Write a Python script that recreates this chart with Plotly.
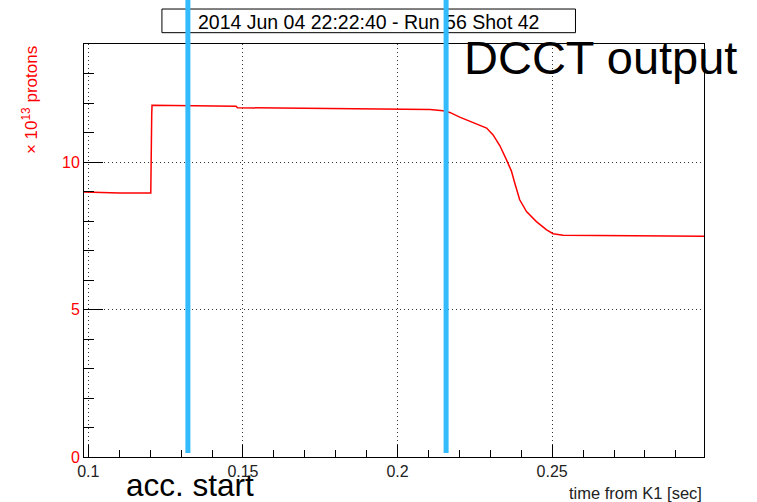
import plotly.graph_objects as go

# DCCT beam-intensity trace (units of 1e13 protons) vs time from K1 [sec]
time_s = [0.0986, 0.105, 0.110, 0.1202, 0.1203, 0.1205, 0.1206, 0.130, 0.140,
          0.1478, 0.1482, 0.160, 0.1865, 0.1870, 0.200, 0.2072, 0.2105, 0.2147,
          0.2169, 0.2201, 0.2234, 0.2266, 0.2288, 0.2309, 0.2331, 0.2352,
          0.2368, 0.2379, 0.2395, 0.2417, 0.2449, 0.2482, 0.2503, 0.2535,
          0.2718, 0.2991]
protons_e13 = [8.98, 8.96, 8.95, 8.95, 11.5, 11.6, 11.92, 11.91, 11.90,
               11.89, 11.84, 11.83, 11.82, 11.80, 11.80, 11.79, 11.78, 11.74,
               11.68, 11.52, 11.38, 11.25, 11.15, 10.92, 10.55, 10.08,
               9.70, 9.29, 8.72, 8.32, 7.98, 7.70, 7.57, 7.52,
               7.50, 7.48]

# markers for timing events
event_times = [0.1322, 0.2157]

x_ticks = [0.1, 0.15, 0.2, 0.25]
y_ticks = [0, 5, 10]

title_text = "2014 Jun 04 22:22:40 - Run 56 Shot 42"
FONT = "Liberation Sans, Arial, Helvetica, sans-serif"
RED = "#ff0000"
BLUE = "#33bbff"
GRID_DASH = "1px,3px"

fig = go.Figure()
fig.add_trace(go.Scatter(x=time_s, y=protons_e13, mode="lines",
                         line=dict(color=RED, width=1.5), showlegend=False))

shapes = [
    dict(type="rect", xref="paper", yref="paper",
         x0=0.1257, x1=0.7927, y0=1.0274, y1=1.0847,
         line=dict(color="black", width=1), fillcolor="white", layer="above",
         label=dict(text=title_text, textposition="middle center",
                    font=dict(family=FONT, size=19.5, color="black"))),
]
for t in event_times:
    shapes.append(dict(type="line", xref="x", yref="paper",
                       x0=t, x1=t, y0=0.0097, y1=1.12,
                       line=dict(color=BLUE, width=5), layer="above"))

fig.update_layout(
    width=757, height=502,
    margin=dict(l=84, r=53, t=44, b=45),
    paper_bgcolor="white", plot_bgcolor="white",
    font=dict(family=FONT, size=16, color="#222222"),
    shapes=shapes,
    xaxis=dict(range=[0.0986, 0.2991], tickvals=x_ticks,
               ticks="inside", ticklen=12, tickcolor="black", tickwidth=1,
               minor=dict(dtick=0.01, tick0=0.1, ticks="inside", ticklen=7,
                          tickcolor="black", showgrid=False),
               showline=True, linecolor="black", linewidth=1, mirror=True,
               showgrid=True, gridcolor="#333333", griddash=GRID_DASH,
               gridwidth=1, zeroline=False,
               tickfont=dict(size=16, color="#222222")),
    yaxis=dict(range=[0, 14], tickvals=y_ticks,
               ticks="inside", ticklen=19, tickcolor="black", tickwidth=1,
               minor=dict(dtick=1, tick0=0, ticks="inside", ticklen=10,
                          tickcolor="black", showgrid=False),
               showline=True, linecolor="black", linewidth=1, mirror=True,
               showgrid=True, gridcolor="#333333", griddash=GRID_DASH,
               gridwidth=1, zeroline=False,
               tickfont=dict(size=16, color=RED)),
    annotations=[
        dict(text="× 10<sup>13</sup> protons", textangle=-90,
             xref="paper", yref="paper", x=-0.087, y=1.0,
             xanchor="center", yanchor="top", showarrow=False,
             font=dict(size=17, color=RED)),
        dict(text="time from K1 [sec]", xref="paper", yref="paper",
             x=1.0, y=-0.088, xanchor="right", yanchor="middle",
             showarrow=False, font=dict(size=16.5, color="#222222")),
        dict(text="DCCT output", xref="paper", yref="paper",
             x=0.6089, y=0.967, xanchor="left", yanchor="middle",
             showarrow=False, font=dict(size=47, color="black")),
        dict(text="acc. start", xref="paper", yref="paper",
             x=0.0645, y=-0.0668, xanchor="left", yanchor="middle",
             showarrow=False, font=dict(size=31.5, color="black")),
    ],
)

fig.write_html("out.html")
